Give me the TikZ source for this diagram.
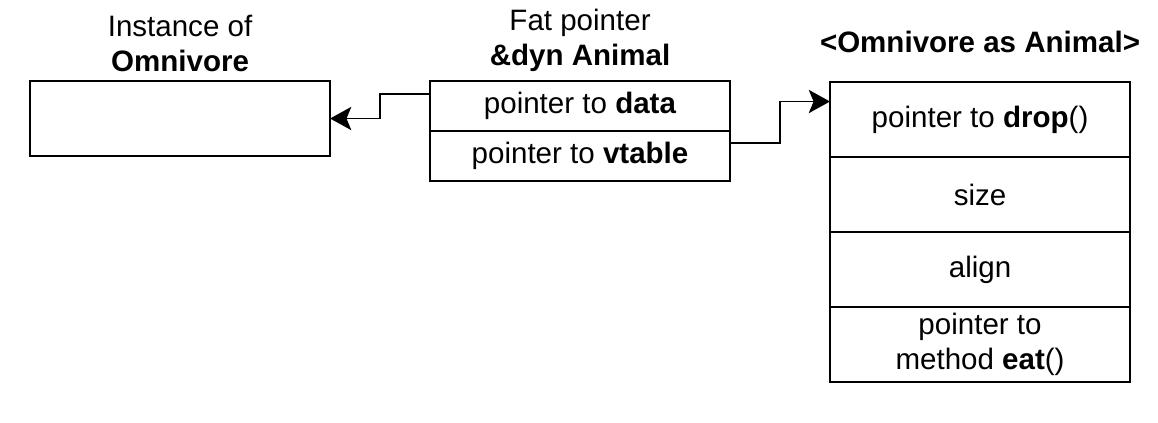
\documentclass[tikz,border=0pt]{standalone}
\usepackage{fontspec}
\setmainfont{Liberation Sans}
\usetikzlibrary{positioning,arrows.meta}
\tikzset{
  fig/.style={font=\fontsize{21}{25}\selectfont},
  cell/.style={draw,line width=1.4pt,minimum width=7.5cm,minimum height=1.25cm,
               align=center,inner sep=0pt,outer sep=0pt},
  tallcell/.style={cell,minimum height=1.875cm},
  heading/.style={align=center,inner sep=0pt},
  ptr/.style={-{Stealth[length=5.3mm,width=5.8mm,inset=1.2mm]},line width=1.4pt},
}

\begin{document}
\begin{tikzpicture}[fig,x=0.025cm,y=-0.025cm]
\useasboundingbox (0,0) rectangle (1158,422);

% instance
\node[tallcell,anchor=north west] (obj) at (30,81) {};
\node[heading,above=0.225cm of obj] (objcap) {Instance of\\\textbf{Omnivore}};

% fat pointer
\node[cell,anchor=north west] (fpdata) at (430,81) {pointer to \textbf{data}};
\node[cell,below=0pt of fpdata] (fpvt) {pointer to \textbf{vtable}};
\node[heading,above=0.225cm of fpdata] (fpcap) {Fat pointer\\\textbf{\&dyn Animal}};

% vtable
\node[tallcell,anchor=north west] (vdrop) at (830,82) {pointer to \textbf{drop}()};
\node[tallcell,below=0pt of vdrop] (vsize) {size};
\node[tallcell,below=0pt of vsize] (valign) {align};
\node[tallcell,below=0pt of valign] (veat) {pointer to\\method \textbf{eat}()};
\node[heading,above=0.725cm of vdrop] (vcap) {\textbf{<Omnivore as Animal>}};

\draw[ptr] ([yshift=0.3cm]fpdata.west) -- ++(-50,0) |- (obj.east);
\draw[ptr] ([yshift=0.325cm]fpvt.east) -- ++(50,0) |- ([yshift=0.45cm]vdrop.west);

\end{tikzpicture}
\end{document}
